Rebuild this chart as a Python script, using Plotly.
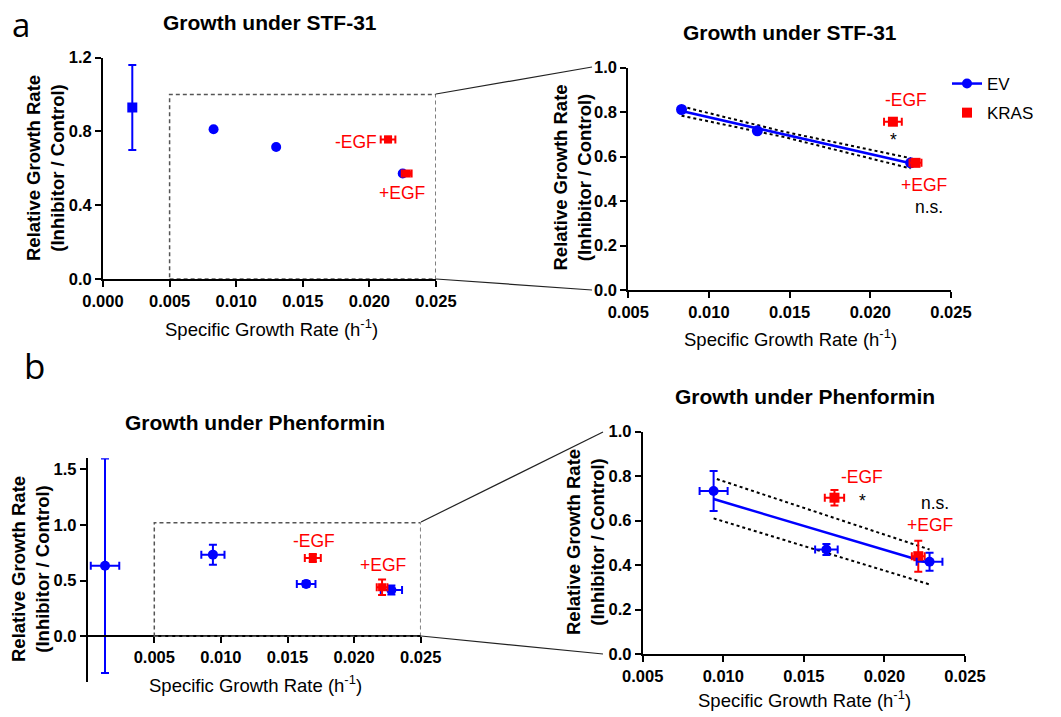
import plotly.graph_objects as go

W, H = 1061, 717

# ---------------- data: panel a (STF-31) ----------------
a_ev_x = [0.0083, 0.0130, 0.0225]
a_ev_y = [0.812, 0.716, 0.572]
a_kras_x = [0.0214, 0.0228]
a_kras_y = [0.757, 0.572]
a_kras_xerr = [0.00055, 0.00037]
a_kras_yerr = [0.015, 0.008]
a_ctrl_x = [0.0022]
a_ctrl_y = [0.93]
a_ctrl_yerr = [0.23]
a_fit_x = [0.0083, 0.0146, 0.0225]
a_fit_y = [0.805, 0.701, 0.570]
a_band_hi = [0.826, 0.713, 0.593]
a_band_lo = [0.784, 0.689, 0.547]

# ---------------- data: panel b (Phenformin) ----------------
b_ev_x = [0.0094, 0.0164, 0.0228]
b_ev_y = [0.733, 0.470, 0.415]
b_ev_xerr = [0.00087, 0.0007, 0.0008]
b_ev_yerr = [0.09, 0.025, 0.04]
b_kras_x = [0.0169, 0.0221]
b_kras_y = [0.703, 0.44]
b_kras_xerr = [0.0006, 0.0004]
b_kras_yerr = [0.035, 0.07]
b_ctrl_x = [0.0013]
b_ctrl_y = [0.633]
b_ctrl_xerr = [0.00107]
b_ctrl_yerr = [0.965]
b_fit_x = [0.0094, 0.0228]
b_fit_y = [0.697, 0.408]
b_band_hi_x = [0.0096, 0.0228]
b_band_hi = [0.787, 0.470]
b_band_lo_x = [0.0094, 0.0228]
b_band_lo = [0.610, 0.313]

x_ticks_full = [0.000, 0.005, 0.010, 0.015, 0.020, 0.025]
x_ticks_zoom = [0.005, 0.010, 0.015, 0.020, 0.025]

BLUE = "#0000FF"
RED = "#FF0000"
FONT = "Liberation Sans, Arial, sans-serif"

fig = go.Figure()


def pts(x, y, xa, ya, color, symbol, size, xerr=None, yerr=None):
    tr = dict(
        x=x, y=y, xaxis=xa, yaxis=ya, mode="markers", showlegend=False,
        marker=dict(color=color, symbol=symbol, size=size, line=dict(width=0)),
        cliponaxis=False, hoverinfo="skip",
    )
    if xerr is not None:
        tr["error_x"] = dict(type="data", array=xerr, color=color, thickness=2, width=4)
    if yerr is not None:
        tr["error_y"] = dict(type="data", array=yerr, color=color, thickness=2, width=4)
    fig.add_trace(go.Scatter(**tr))


def line(x, y, xa, ya, color, dash="solid", width=2.5):
    fig.add_trace(go.Scatter(x=x, y=y, xaxis=xa, yaxis=ya, mode="lines", showlegend=False,
                             line=dict(color=color, width=width, dash=dash), hoverinfo="skip"))


# panel a left (overview)
pts(a_ctrl_x, a_ctrl_y, "x", "y", BLUE, "square", 10, yerr=a_ctrl_yerr)
pts(a_ev_x, a_ev_y, "x", "y", BLUE, "circle", 10)
pts(a_kras_x, a_kras_y, "x", "y", RED, "square", 8, xerr=a_kras_xerr, yerr=a_kras_yerr)

# panel a right (zoom)
line(a_fit_x, a_band_hi, "x2", "y2", "black", "dot", 2)
line(a_fit_x, a_band_lo, "x2", "y2", "black", "dot", 2)
line(a_fit_x, a_fit_y, "x2", "y2", BLUE, "solid", 2.5)
pts(a_ev_x, a_ev_y, "x2", "y2", BLUE, "circle", 11)
pts(a_kras_x, a_kras_y, "x2", "y2", RED, "square", 10, xerr=a_kras_xerr, yerr=a_kras_yerr)

# panel b left (overview)
pts(b_ctrl_x, b_ctrl_y, "x3", "y3", BLUE, "circle", 10, xerr=b_ctrl_xerr, yerr=b_ctrl_yerr)
pts(b_ev_x, b_ev_y, "x3", "y3", BLUE, "circle", 10, xerr=b_ev_xerr, yerr=b_ev_yerr)
pts(b_kras_x, b_kras_y, "x3", "y3", RED, "square", 8, xerr=b_kras_xerr, yerr=b_kras_yerr)

# panel b right (zoom)
line(b_band_hi_x, b_band_hi, "x4", "y4", "black", "dot", 2)
line(b_band_lo_x, b_band_lo, "x4", "y4", "black", "dot", 2)
line(b_fit_x, b_fit_y, "x4", "y4", BLUE, "solid", 2.5)
pts(b_kras_x, b_kras_y, "x4", "y4", RED, "square", 10, xerr=b_kras_xerr, yerr=b_kras_yerr)
pts(b_ev_x, b_ev_y, "x4", "y4", BLUE, "circle", 10, xerr=b_ev_xerr, yerr=b_ev_yerr)

# legend entries
fig.add_trace(go.Scatter(x=[None], y=[None], xaxis="x2", yaxis="y2", mode="lines+markers", name="EV",
                         legendgroup="ev",
                         line=dict(color=BLUE, width=2.5), marker=dict(color=BLUE, symbol="circle", size=10)))
fig.add_trace(go.Scatter(x=[None], y=[None], xaxis="x2", yaxis="y2", mode="markers", name="KRAS",
                         legendgroup="kras",
                         marker=dict(color=RED, symbol="square", size=10)))


def px_x(p):
    return p / W


def px_y(p):
    return 1 - p / H


axis_common = dict(
    showgrid=False, zeroline=False, showline=True, linecolor="black", linewidth=2,
    ticks="outside", ticklen=6, tickwidth=2, tickcolor="black",
    tickfont=dict(family=FONT, size=16.5, color="black", weight="bold"),
)

b_ylo, b_yhi = -0.41, 1.6
b3_dom = [px_y(681.7), px_y(458.3)]
b3_xpos = b3_dom[0] + (0 - b_ylo) / (b_yhi - b_ylo) * (b3_dom[1] - b3_dom[0])

fig.update_layout(
    width=W, height=H, margin=dict(l=0, r=0, t=0, b=0, pad=0, autoexpand=False),
    paper_bgcolor="white", plot_bgcolor="white",
    font=dict(family=FONT, color="black"),
    xaxis=dict(domain=[px_x(103), px_x(436)], range=[0, 0.025], anchor="y",
               tickvals=x_ticks_full, tickformat=".3f", **axis_common),
    yaxis=dict(domain=[px_y(279), px_y(57.7)], range=[0, 1.2], anchor="x",
               tickvals=[0, 0.4, 0.8, 1.2], tickformat=".1f", **axis_common),
    xaxis2=dict(domain=[px_x(628.3), px_x(951)], range=[0.005, 0.025], anchor="y2",
                tickvals=x_ticks_zoom, tickformat=".3f", **axis_common),
    yaxis2=dict(domain=[px_y(290), px_y(67.7)], range=[0, 1], anchor="x2",
                tickvals=[0, 0.2, 0.4, 0.6, 0.8, 1.0], tickformat=".1f", **axis_common),
    xaxis3=dict(domain=[px_x(87.7), px_x(420.7)], range=[0, 0.025], anchor="free", position=b3_xpos,
                tickvals=x_ticks_zoom, tickformat=".3f", **axis_common),
    yaxis3=dict(domain=b3_dom, range=[b_ylo, b_yhi], anchor="x3",
                tickvals=[0, 0.5, 1.0, 1.5], tickformat=".1f", **axis_common),
    xaxis4=dict(domain=[px_x(642.7), px_x(965)], range=[0.005, 0.025], anchor="y4",
                tickvals=x_ticks_zoom, tickformat=".3f", **axis_common),
    yaxis4=dict(domain=[px_y(654), px_y(431.7)], range=[0, 1], anchor="x4",
                tickvals=[0, 0.2, 0.4, 0.6, 0.8, 1.0], tickformat=".1f", **axis_common),
    legend=dict(x=px_x(947), y=px_y(66), xanchor="left", yanchor="top",
                font=dict(family=FONT, size=17, color="black"), bgcolor="rgba(0,0,0,0)",
                itemwidth=30, tracegroupgap=4),
)

ann = []


def txt(x, y, s, size=17.5, color="black", xref="paper", yref="paper", bold=False, angle=0,
        xanchor="center", yanchor="middle", family=FONT):
    ann.append(dict(x=x, y=y, xref=xref, yref=yref, text=s, showarrow=False, textangle=angle,
                    xanchor=xanchor, yanchor=yanchor,
                    font=dict(family=family, size=size, color=color, weight="bold" if bold else "normal")))


XT = "Specific Growth Rate (h<sup>-1</sup>)"
YT = "Relative Growth Rate<br>(Inhibitor / Control)"

# panel letters
txt(px_x(20.5), px_y(0), "a", size=33, family="Open Sans, sans-serif", yanchor="top")
txt(px_x(34), px_y(365), "b", size=35, family="Open Sans, sans-serif")

# titles
txt(px_x(270), px_y(22.5), "Growth under STF-31", size=21, bold=True)
txt(px_x(789.5), px_y(32), "Growth under STF-31", size=21, bold=True)
txt(px_x(255), px_y(422.5), "Growth under Phenformin", size=21, bold=True)
txt(px_x(804.5), px_y(396), "Growth under Phenformin", size=21, bold=True)

# axis titles
txt(px_x(271), px_y(341.5), XT, size=18.5, yanchor="bottom")
txt(px_x(790), px_y(352), XT, size=18.5, yanchor="bottom")
txt(px_x(255), px_y(698), XT, size=18.5, yanchor="bottom")
txt(px_x(804), px_y(712.5), XT, size=18.5, yanchor="bottom")
txt(px_x(46), px_y(168), YT, size=18.5, bold=True, angle=-90)
txt(px_x(571.5), px_y(178), YT, size=18.5, bold=True, angle=-90)
txt(px_x(30), px_y(569), YT, size=18.5, bold=True, angle=-90)
txt(px_x(585), px_y(542), YT, size=18.5, bold=True, angle=-90)

# point labels
txt(0.0190, 0.745, "-EGF", color=RED, xref="x", yref="y")
txt(0.02243, 0.465, "+EGF", color=RED, xref="x", yref="y")
txt(0.0222, 0.855, "-EGF", color=RED, xref="x2", yref="y2")
txt(0.02143, 0.675, "*", color="black", xref="x2", yref="y2")
txt(0.02333, 0.472, "+EGF", color=RED, xref="x2", yref="y2")
txt(0.02366, 0.375, "n.s.", color="black", xref="x2", yref="y2")
txt(0.01697, 0.855, "-EGF", color=RED, xref="x3", yref="y3")
txt(0.02214, 0.639, "+EGF", color=RED, xref="x3", yref="y3")
txt(0.01859, 0.798, "-EGF", color=RED, xref="x4", yref="y4")
txt(0.01865, 0.69, "*", color="black", xref="x4", yref="y4")
txt(0.02314, 0.681, "n.s.", color="black", xref="x4", yref="y4")
txt(0.02283, 0.58, "+EGF", color=RED, xref="x4", yref="y4")

fig.update_layout(annotations=ann)

# zoom rectangles and connector lines
shapes = [
    dict(type="rect", xref="x", yref="y", x0=0.005, x1=0.025, y0=0, y1=1.0,
         line=dict(color="#555555", width=1.5, dash="4px,3px")),
    dict(type="rect", xref="x3", yref="y3", x0=0.005, x1=0.025, y0=0, y1=1.02,
         line=dict(color="#555555", width=1.5, dash="4px,3px")),
    dict(type="line", xref="paper", yref="paper", x0=px_x(436), y0=px_y(94), x1=px_x(592), y1=px_y(67),
         line=dict(color="#222222", width=1.2)),
    dict(type="line", xref="paper", yref="paper", x0=px_x(436), y0=px_y(279), x1=px_x(592), y1=px_y(290),
         line=dict(color="#222222", width=1.2)),
    dict(type="line", xref="paper", yref="paper", x0=px_x(421), y0=px_y(522), x1=px_x(603), y1=px_y(432),
         line=dict(color="#222222", width=1.2)),
    dict(type="line", xref="paper", yref="paper", x0=px_x(421), y0=px_y(636), x1=px_x(603), y1=px_y(654),
         line=dict(color="#222222", width=1.2)),
]
fig.update_layout(shapes=shapes)

fig.write_html("out.html", config={"displayModeBar": False},
               post_script="document.body.style.margin='0px';document.body.style.overflow='hidden';")
